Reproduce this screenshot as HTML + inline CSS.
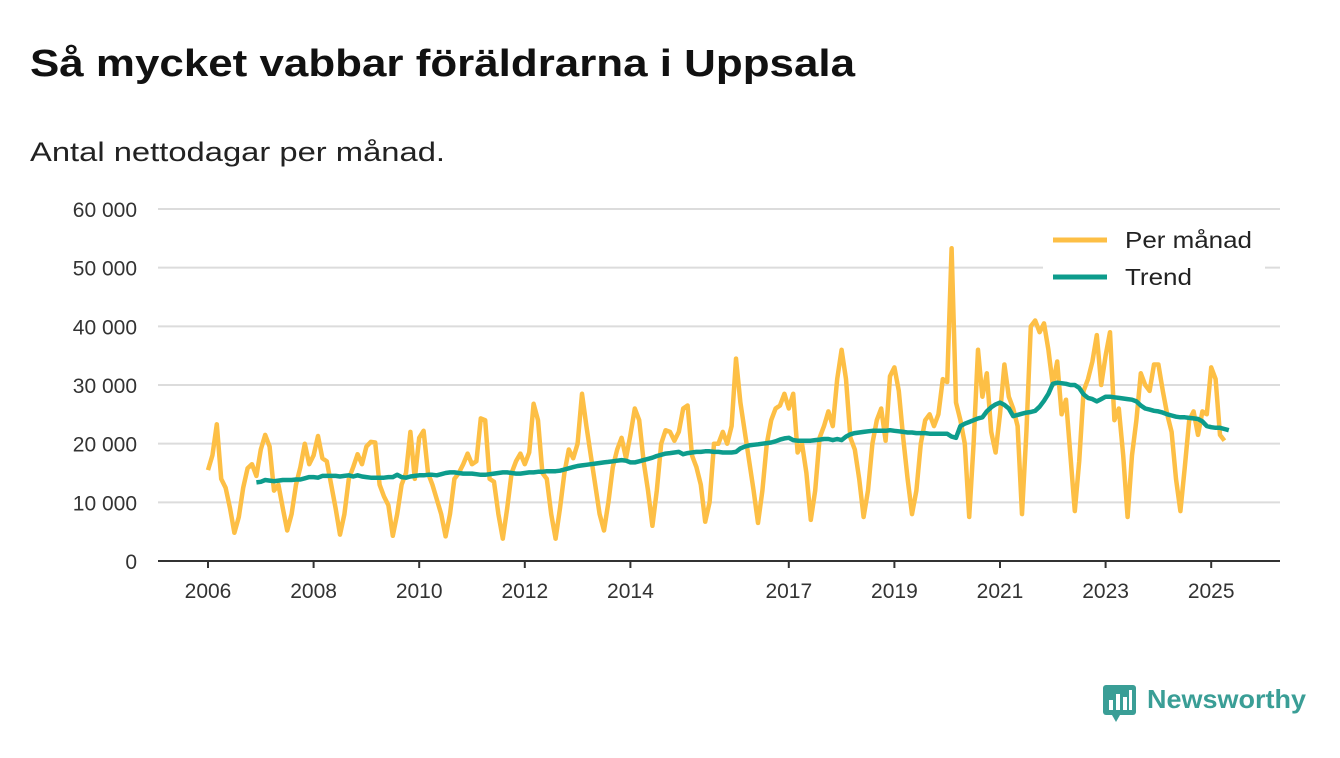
<!DOCTYPE html>
<html><head><meta charset="utf-8"><style>
body{margin:0;width:1340px;height:753px;background:#fff;font-family:"Liberation Sans",sans-serif;overflow:hidden}
</style></head><body>
<svg width="1340" height="753" xmlns="http://www.w3.org/2000/svg">
<text x="30" y="76" font-size="38" font-weight="bold" fill="#111" textLength="825" lengthAdjust="spacingAndGlyphs">Så mycket vabbar föräldrarna i Uppsala</text>
<text x="30" y="161" font-size="27" fill="#222" textLength="415" lengthAdjust="spacingAndGlyphs">Antal nettodagar per månad.</text>
<g id="grid"></g><g id="axes"></g><g id="series"></g>
<g>
<rect x="1043" y="222" width="222" height="72" fill="#fff"/>
<line x1="1053" y1="240" x2="1107" y2="240" stroke="#fdbf45" stroke-width="5"/>
<text x="1125" y="248" font-size="23" fill="#222" textLength="127" lengthAdjust="spacingAndGlyphs">Per månad</text>
<line x1="1053" y1="277" x2="1107" y2="277" stroke="#0d9c8c" stroke-width="5"/>
<text x="1125" y="285" font-size="23" fill="#222" textLength="67" lengthAdjust="spacingAndGlyphs">Trend</text>
</g>
<g>
<rect x="1103" y="685" width="33" height="30" rx="3" fill="#3a9e96"/>
<polygon points="1112,715 1120,715 1116,722" fill="#3a9e96"/>
<rect x="1109" y="700" width="4" height="10" fill="#fff"/><rect x="1116" y="694" width="4" height="16" fill="#fff"/><rect x="1123" y="697" width="4" height="13" fill="#fff"/><rect x="1129" y="690" width="3" height="20" fill="#fff"/>
<text x="1147" y="708" font-size="26" font-weight="bold" fill="#3a9e96" textLength="159" lengthAdjust="spacingAndGlyphs">Newsworthy</text>
</g>
</svg>
<script>
const yTicks=[0,10000,20000,30000,40000,50000,60000];
const yTickLabels=["0","10 000","20 000","30 000","40 000","50 000","60 000"];
const xTicks=[2006,2008,2010,2012,2014,2017,2019,2021,2023,2025];
const startYear=2006;
const perManad=[
15.5,18,23.3,14,12.5,9,4.8,7.5,12.5,15.8,16.5,14.5,
19,21.5,19.5,12,13,9,5.2,8,13,16,20,16.5,
18,21.3,17.5,17,13,9,4.5,8,14,16,18.2,16.5,
19.5,20.3,20.2,13,11,9.5,4.3,8,13,15,22,14,
21,22.2,15,13,10.5,8,4.2,8,14,15,16.5,18.3,
16.5,17,24.3,24,14,13.5,8,3.8,9,15,17,18.3,
16.5,18.5,26.8,24,15,14,8,3.8,9,15,19,17.5,
20,28.5,23,18,13,8,5.2,10,16,19,21,17.5,
21.5,26,24,17,12,6,12,20,22.3,22,20.5,22,
26,26.5,18,16,13,6.7,10,20,20,22,20,23,
34.5,27,22,17,12,6.5,12,20,24,26,26.5,28.5,
26,28.5,18.5,20,15,7,12,21,23,25.5,23,31,
36,31,21,19,14,7.5,12,20,24,26,20.5,31.5,
33,29,21,14,8,12,20,24,25,23,25,31,
30.5,53.3,27,24,20,7.5,20,36,28,32,22,18.5,
25,33.5,28,26,23,8,22,40,41,39,40.5,36,
30,34,25,27.5,18,8.5,17,29,31,34,38.5,30,
35,39,24,26,18,7.5,18,24,32,30,29,33.5,
33.5,29,25,22,14,8.5,16,24,25.5,21.5,25.5,25,
33,31,21.5,20.5];
const trendStart=2007-1/12;
const trend=[13.4,
13.5,13.8,13.7,13.6,13.7,13.8,13.8,13.8,13.9,13.9,14.1,14.3,
14.3,14.2,14.5,14.5,14.5,14.5,14.4,14.5,14.6,14.4,14.6,14.4,
14.3,14.2,14.2,14.2,14.2,14.3,14.3,14.7,14.3,14.2,14.4,14.5,
14.6,14.6,14.7,14.7,14.6,14.8,15.0,15.1,15.1,15.0,14.9,14.9,
14.9,14.8,14.7,14.7,14.8,14.9,15.0,15.1,15.1,15.0,14.9,14.9,
15.0,15.1,15.1,15.2,15.2,15.3,15.3,15.3,15.4,15.6,15.8,16.0,
16.2,16.3,16.4,16.5,16.6,16.7,16.8,16.9,17.0,17.1,17.2,17.1,
16.8,16.8,17.0,17.2,17.4,17.6,17.9,18.1,18.3,18.4,18.5,18.6,
18.2,18.4,18.5,18.6,18.6,18.7,18.7,18.6,18.6,18.5,18.5,18.5,
18.6,19.2,19.5,19.7,19.8,19.9,20.0,20.1,20.2,20.4,20.7,20.9,
21.0,20.6,20.5,20.5,20.5,20.5,20.6,20.7,20.8,20.8,20.6,20.8,
20.6,21.2,21.6,21.8,21.9,22.0,22.1,22.2,22.2,22.2,22.2,22.3,
22.2,22.1,22.0,21.9,21.9,21.8,21.8,21.8,21.7,21.7,21.7,21.7,
21.7,21.2,21.0,23.0,23.4,23.7,24.0,24.3,24.5,25.5,26.2,26.7,
27.0,26.6,26.0,24.7,24.9,25.1,25.3,25.4,25.6,26.3,27.3,28.5,
30.2,30.4,30.3,30.2,30.0,30.0,29.5,28.4,27.8,27.6,27.2,27.6,
28.0,28.0,27.9,27.8,27.7,27.6,27.5,27.2,26.5,26.0,25.8,25.6,
25.5,25.3,25.0,24.8,24.6,24.5,24.5,24.4,24.3,24.2,23.8,23.0,
22.8,22.7,22.7,22.5,22.3];
const NS='http://www.w3.org/2000/svg';
const x0=158,x1=1280,yTop=209,yBot=561;
function xs(t){return 208+(t-2006)*52.8;}
function ys(v){return yBot-(v/60000)*(yBot-yTop);}
function mk(tag,attrs,parent){const e=document.createElementNS(NS,tag);for(const k in attrs)e.setAttribute(k,attrs[k]);parent.appendChild(e);return e;}
const grid=document.getElementById('grid'),axes=document.getElementById('axes'),ser=document.getElementById('series');
yTicks.forEach((v,i)=>{
  if(v>0){const l=mk('line',{x1:x0,x2:x1,y1:ys(v),y2:ys(v),stroke:'#dcdcdc','stroke-width':2},grid);
  
  }
  const t=mk('text',{x:137,y:ys(v)+8,'text-anchor':'end','font-size':21,fill:'#333'},axes);
  t.textContent=yTickLabels[i];
  
  
});
const base=mk('line',{x1:x0,x2:x1,y1:yBot,y2:yBot,stroke:'#333','stroke-width':2},axes);


xTicks.forEach(yr=>{
  mk('line',{x1:xs(yr),x2:xs(yr),y1:yBot,y2:yBot+7,stroke:'#333','stroke-width':2},axes);
  const t=mk('text',{x:xs(yr),y:598,'text-anchor':'middle','font-size':21,fill:'#333'},axes);
  t.textContent=yr;
  
  
});
const p1=perManad.map((v,i)=>xs(startYear+i/12).toFixed(1)+','+ys(v*1000).toFixed(1)).join(' ');
const pl=mk('polyline',{points:p1,fill:'none',stroke:'#fdbf45','stroke-width':4.5,'stroke-linejoin':'round'},ser);


const p2=trend.map((v,i)=>xs(trendStart+i/12).toFixed(1)+','+ys(v*1000).toFixed(1)).join(' ');
const tl=mk('polyline',{points:p2,fill:'none',stroke:'#0d9c8c','stroke-width':4.5,'stroke-linejoin':'round'},ser);


</script>
</body></html>
